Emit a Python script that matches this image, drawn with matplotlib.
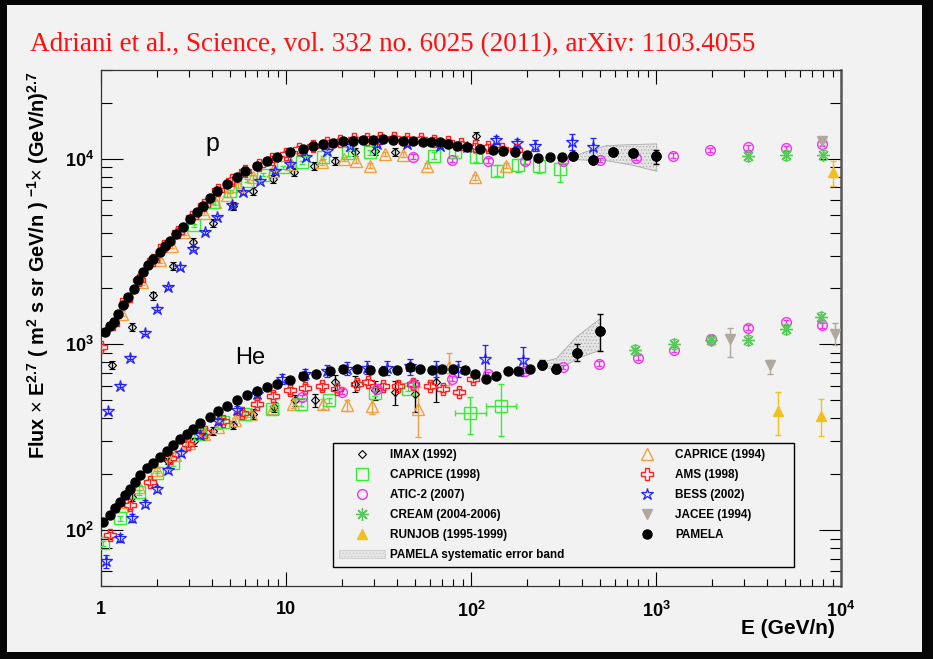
import matplotlib.pyplot as plt
from matplotlib.lines import Line2D
from matplotlib.patches import Patch, Rectangle
from matplotlib.ticker import NullFormatter, LogLocator

plt.rcParams['font.family'] = ['Liberation Sans', 'DejaVu Sans']
plt.rcParams['mathtext.fontset'] = 'custom'
plt.rcParams['mathtext.rm'] = 'Liberation Sans'
plt.rcParams['mathtext.bf'] = 'Liberation Sans:bold'
plt.rcParams['hatch.linewidth'] = 0.5
plt.rcParams['hatch.color'] = '#999999'

# ---- proton data ----
p_pam_E = [1.05, 1.12, 1.17, 1.24, 1.32, 1.40, 1.50, 1.59, 1.69, 1.80, 1.92, 2.08, 2.22,
           2.36, 2.55, 2.78, 3.03, 3.3, 3.57, 3.9, 4.22, 4.77, 5.41, 6.0, 6.94, 7.86, 8.9,
           10.5, 12.3, 14.0, 15.8, 18.0, 20.3, 23.0, 26.1, 29.5, 33.4, 38.0, 42.9, 48.5,
           55, 61, 67.7, 75, 83.9, 95, 112, 131, 149, 172, 200, 230, 266, 310, 355, 458,
           584, 750, 1000]
p_pam_F = [1164, 1250, 1318, 1462, 1622, 1795, 1995, 2208, 2446, 2660, 2886, 3132, 3380,
           3622, 3950, 4276, 4740, 5150, 5586, 6150, 6730, 7310, 7940, 8620, 9170, 9750,
           10160, 10810, 11270, 11650, 11990, 12200, 12380, 12500, 12600, 12650, 12700,
           12600, 12500, 12400, 12300, 12250, 12300, 12000, 11750, 11500, 11270, 11130,
           11040, 10810, 10510, 10040, 10250, 10250, 10380, 9880, 10900, 10730, 10290]
p_pam_err_E = [355, 458, 584, 750, 1000]
p_pam_err_F = [10380, 9880, 10900, 10730, 10290]
p_pam_err = [[150, 250, 300, 450, 920], [150, 250, 300, 450, 840]]
p_band_E = [355, 420, 540, 750, 1010]
p_band_lo = [9900, 9800, 9750, 9200, 8540]
p_band_hi = [10200, 10900, 11750, 11900, 12000]

p_imax_E = [1.15, 1.47, 1.90, 2.44, 3.13, 4.05, 5.19, 6.66, 8.55, 11.0, 14.1, 18.4, 23.6,
            30.3, 38.8, 107]
p_imax_F = [771, 1239, 1833, 2636, 3548, 4487, 5586, 6730, 7780, 8440, 9170, 9750, 10810,
            11040, 10810, 13300]

p_cap94_E = [1.29, 1.66, 2.08, 2.41, 2.81, 3.60, 4.13, 4.77, 5.52, 6.66, 8.5, 10.7, 15.6,
             20.5, 23.9, 28.5, 34.3, 42.9, 58, 105, 155]
p_cap94_F = [1462, 2163, 2831, 3403, 4018, 5100, 5820, 6400, 7160, 7940, 8620, 9360, 9550,
             9960, 9750, 9170, 10600, 10500, 9170, 7940, 9170]

p_cap98_E = [3.18, 4.05, 4.98, 6.13, 7.53, 9.66, 12.2, 15.9, 21.7, 28.5, 62.7, 82, 106,
             138, 180, 232, 302]
p_cap98_F = [4365, 5820, 6670, 7610, 8200, 8980, 9550, 10160, 10680, 10810, 10380, 10810,
             10160, 8620, 9250, 9170, 8800]
p_cap98_rel = [0.02, 0.02, 0.02, 0.02, 0.02, 0.02, 0.02, 0.02, 0.03, 0.03, 0.04, 0.05,
               0.06, 0.07, 0.08, 0.09, 0.15]

p_ams_E = [1.0, 1.16, 1.37, 1.6, 1.9, 2.2, 2.6, 3.1, 3.6, 4.3, 5.1, 6.0, 7.1, 8.4, 10,
           11.8, 14, 16.6, 19.6, 23.2, 27.4, 32.4, 38.3, 45.3, 53.6, 63.4, 75, 88.7, 105,
           124, 147, 174]
p_ams_F = [967, 1290, 1730, 2230, 2840, 3380, 4050, 4850, 5620, 6780, 7650, 8600, 9250,
           9950, 10600, 11200, 11700, 12150, 12450, 12700, 12800, 12900, 12900, 12800,
           12700, 12500, 12300, 12000, 11700, 11500, 11300, 11100]

p_atic_E = [48.8, 78.8, 123, 195, 315, 500, 780, 1230, 1950, 3150, 5050, 7900]
p_atic_F = [10250, 9840, 9750, 9700, 9670, 9840, 10090, 10380, 11130, 11500, 11360, 12000]

p_bess_E = [1.095, 1.26, 1.43, 1.73, 2.0, 2.31, 2.67, 3.15, 3.65, 4.25, 5.09, 5.88, 7.24,
            8.73, 10.5, 12.9, 16.6, 22.2, 30.9, 44.8, 67.7, 95, 137, 177, 222, 350, 454]
p_bess_F = [438, 600, 848, 1155, 1556, 2032, 2606, 3268, 4018, 4830, 5660, 6590, 7610,
            8540, 9360, 10160, 11040, 11750, 12000, 12000, 11750, 11500, 12600, 12100,
            11750, 12300, 11500]
p_bess_rel = [0.02] * 20 + [0.03, 0.04, 0.05, 0.06, 0.07, 0.10, 0.12]

p_cream_E = [3150, 5050, 7950]
p_cream_F = [10290, 10470, 10470]
p_jacee_E = [7900]
p_jacee_F = [12500]
p_runjob_E = [9000]
p_runjob_F = [8440]
p_runjob_err = [[1280], [1310]]

# ---- helium data ----
he_pam_E = [1.03, 1.12, 1.19, 1.27, 1.35, 1.43, 1.53, 1.62, 1.77, 1.92, 2.08, 2.27, 2.46,
            2.68, 2.90, 3.15, 3.43, 3.88, 4.3, 4.77, 5.41, 6.13, 6.94, 7.9, 8.9, 10.5,
            12.4, 14.6, 17.3, 20.4, 24.1, 28.5, 33.6, 39.7, 46.8, 52.8, 61.6, 69.9, 80.2,
            92.6, 105, 121, 137, 158, 180, 208, 243, 289, 372, 497]
he_pam_F = [110.8, 120, 131, 142, 154, 167, 182, 198, 215, 229, 248, 268, 287, 310, 331,
            352, 375, 407, 435, 464, 500, 532, 561, 590, 615, 646, 673, 695, 718, 734, 734,
            725, 718, 725, 755, 740, 730, 740, 740, 725, 695, 649, 673, 718, 716, 740, 778,
            740, 898, 1179]
he_pam_err_E = [243, 289, 372, 497]
he_pam_err_F = [778, 740, 898, 1179]
he_pam_err = [[40, 35, 80, 263], [45, 40, 100, 271]]
he_band_E = [240, 290, 372, 500]
he_band_lo = [770, 716, 836, 930]
he_band_hi = [800, 840, 1097, 1375]

he_imax_E = [1.47, 2.3, 3.2, 4.05, 5.19, 6.66, 8.6, 11.2, 14.3, 18.4, 23.6, 30.3, 38.8, 50, 65]
he_imax_F = [150, 235, 300, 340, 367, 421, 460, 500, 500, 626, 615, 570, 555, 538, 626]
he_imax_rel = [0.04, 0.04, 0.05, 0.05, 0.05, 0.06, 0.06, 0.07, 0.08, 0.09, 0.10, 0.12,
               0.15, 0.2, 0.22]

he_cap94_E = [1.3, 1.6, 2.0, 2.5, 3.0, 3.6, 4.3, 5.3, 6.5, 8.5, 10.9, 15.9, 21.3, 29, 52, 76]
he_cap94_F = [135, 170, 210, 255, 295, 330, 360, 390, 420, 455, 480, 480, 470, 464, 451, 753]
he_cap94_rel = [0.03] * 10 + [0.05, 0.06, 0.07, 0.09, 0.3, 0.2]

he_cap98_E = [1.03, 1.27, 1.6, 2.0, 2.46, 3.43, 4.57, 6.0, 8.35, 12, 17, 30.3, 45.9]
he_cap98_F = [85, 116, 160, 202, 229, 331, 382, 420, 451, 480, 500, 544, 578]
he_cap98_hi_E = [98.6, 145]
he_cap98_hi_F = [427, 464]
he_cap98_hi_yerr = [[97, 142], [96, 151]]
he_cap98_hi_xerr = [[16.6, 25], [21.4, 30]]

he_ams_E = [1.12, 1.43, 1.84, 2.36, 2.96, 3.65, 4.57, 5.76, 6.94, 8.5, 10.5, 12.7, 15.6,
            18.8, 24.1, 27.9, 33.6, 40.4, 48.8, 60, 70.6, 86, 103]
he_ams_F = [94, 136, 182, 243, 290, 339, 387, 427, 480, 530, 566, 585, 594, 578, 615, 626,
            594, 600, 615, 600, 578, 555, 653]

he_atic_E = [12.2, 20.0, 30.9, 48.8, 78.7, 123, 195, 313, 494, 795, 1250, 1980, 3150, 5050, 7900]
he_atic_F = [521, 555, 578, 615, 653, 690, 720, 755, 787, 848, 936, 1073, 1230, 1318, 1265]

he_bess_E = [1.07, 1.27, 1.47, 1.73, 2.0, 2.31, 2.7, 3.43, 4.3, 5.41, 7.0, 9.5, 12.7, 16.6,
             21.3, 27.3, 35, 46.8, 65, 85, 119, 191]
he_bess_F = [68, 91, 116, 139, 167, 211, 260, 324, 385, 441, 540, 650, 690, 720, 740, 750,
             750, 760, 740, 740, 836, 820]
he_bess_rel = [0.08, 0.05, 0.05, 0.04, 0.04, 0.04, 0.04, 0.04, 0.04, 0.05, 0.05, 0.06,
               0.07, 0.07, 0.08, 0.08, 0.09, 0.1, 0.1, 0.1, 0.18, 0.18]

he_cream_E = [770, 1250, 1980, 3150, 5050, 7800]
he_cream_F = [936, 1010, 1058, 1058, 1213, 1403]
he_jacee_E = [2500, 4150, 9300]
he_jacee_F = [1073, 771, 1140]
he_jacee_err = [[218, 80, 150], [147, 50, 160]]
he_runjob_E = [4580, 7750]
he_runjob_F = [436, 410]
he_runjob_err = [[113, 88], [119, 99]]

legend_labels = ['IMAX (1992)', 'CAPRICE (1998)', 'ATIC-2 (2007)', 'CREAM (2004-2006)',
                 'RUNJOB (1995-1999)', 'PAMELA systematic error band',
                 'CAPRICE (1994)' + '\u00a0' * 7, 'AMS (1998)', 'BESS (2002)', 'JACEE (1994)',
                 'PAMELA']

BG = '#f2f2f2'
C_CAP94 = '#f0a040'
C_CAP98 = '#33ee33'
C_ATIC = '#ee33ee'
C_CREAM = '#55cc55'
C_AMS = '#ff2020'
C_BESS = '#2222ff'
C_JACEE = '#b0a89c'
C_RUNJOB = '#f0c020'


def rel_err(values, rel):
    if not isinstance(rel, list):
        rel = [rel] * len(values)
    return [v * r for v, r in zip(values, rel)]


def draw(ax, E, F, err, marker, color, ms, filled=False, z=3, mew=1.0, cap=2.5, xerr=None):
    ax.errorbar(E, F, yerr=err, xerr=xerr, fmt='', marker=marker, linestyle='none',
                color=color, mfc=color if filled else 'none', mec=color, ms=ms, mew=mew,
                elinewidth=1, capsize=cap, zorder=z)


fig = plt.figure(figsize=(9.33, 6.59), dpi=100, facecolor='#060606')
fig.patches.append(Rectangle((0.0075, 0.0106), 0.981, 0.982, transform=fig.transFigure,
                             facecolor=BG, edgecolor='none', zorder=-5))
ax = fig.add_axes([0.1083, 0.1108, 0.7931, 0.783])
ax.set_facecolor(BG)
ax.set_xscale('log')
ax.set_yscale('log')
ax.set_xlim(1, 1e4)
ax.set_ylim(50, 3e4)

# systematic bands
for bE, blo, bhi in [(p_band_E, p_band_lo, p_band_hi), (he_band_E, he_band_lo, he_band_hi)]:
    ax.fill_between(bE, blo, bhi, facecolor='#e4e4e4', edgecolor='#aaaaaa',
                    hatch='.....', linewidth=0.6, zorder=2)

# other experiments, both species
star = '*'
aster = (8, 2, 0)
for E, F, rel in [(p_imax_E, p_imax_F, 0.05), (he_imax_E, he_imax_F, he_imax_rel)]:
    draw(ax, E, F, rel_err(F, rel), 'D', 'black', 4.5, mew=0.8)
for E, F, rel in [(p_cap94_E, p_cap94_F, 0.03), (he_cap94_E, he_cap94_F, he_cap94_rel)]:
    draw(ax, E, F, rel_err(F, rel), '^', C_CAP94, 8)
draw(ax, p_cap98_E, p_cap98_F, rel_err(p_cap98_F, p_cap98_rel), 's', C_CAP98, 8)
draw(ax, he_cap98_E, he_cap98_F, rel_err(he_cap98_F, 0.03), 's', C_CAP98, 8)
draw(ax, he_cap98_hi_E, he_cap98_hi_F, he_cap98_hi_yerr, 's', C_CAP98, 8,
     xerr=he_cap98_hi_xerr)
for E, F in [(p_ams_E, p_ams_F), (he_ams_E, he_ams_F)]:
    draw(ax, E, F, rel_err(F, 0.04), 'P', C_AMS, 8)
for E, F in [(p_atic_E, p_atic_F), (he_atic_E, he_atic_F)]:
    draw(ax, E, F, rel_err(F, 0.03), 'o', C_ATIC, 7)
for E, F, rel in [(p_bess_E, p_bess_F, p_bess_rel), (he_bess_E, he_bess_F, he_bess_rel)]:
    draw(ax, E, F, rel_err(F, rel), star, C_BESS, 9, mew=0.9)
for E, F in [(p_cream_E, p_cream_F), (he_cream_E, he_cream_F)]:
    draw(ax, E, F, rel_err(F, 0.06), aster, C_CREAM, 9)
draw(ax, p_jacee_E, p_jacee_F, rel_err(p_jacee_F, 0.05), 'v', C_JACEE, 7, filled=True)
draw(ax, he_jacee_E, he_jacee_F, he_jacee_err, 'v', C_JACEE, 7, filled=True)
draw(ax, p_runjob_E, p_runjob_F, p_runjob_err, '^', C_RUNJOB, 7, filled=True)
draw(ax, he_runjob_E, he_runjob_F, he_runjob_err, '^', C_RUNJOB, 7, filled=True)

# PAMELA
for E, F in [(p_pam_E, p_pam_F), (he_pam_E, he_pam_F)]:
    ax.plot(E, F, 'o', color='black', ms=6.5, ls='none', zorder=5)
draw(ax, p_pam_err_E, p_pam_err_F, p_pam_err, 'o', 'black', 6.5, filled=True, z=5)
draw(ax, he_pam_err_E, he_pam_err_F, he_pam_err, 'o', 'black', 6.5, filled=True, z=5)

ax.text(3.98, 12000, 'p', fontsize=18, ha='center', va='center')
ax.text(6.4, 842, 'He', fontsize=17, ha='center', va='center')

# axes styling
ax.tick_params(which='both', direction='in', top=True, right=True, width=0.8)
ax.tick_params(axis='x', which='major', length=10, pad=11)
ax.tick_params(axis='x', which='minor', length=5)
ax.tick_params(axis='y', which='major', length=16, pad=5)
ax.tick_params(axis='y', which='minor', length=8)
ax.xaxis.set_minor_locator(LogLocator(base=10, subs=range(2, 10), numticks=20))
ax.yaxis.set_minor_locator(LogLocator(base=10, subs=range(2, 10), numticks=20))
ax.xaxis.set_minor_formatter(NullFormatter())
ax.yaxis.set_minor_formatter(NullFormatter())
ax.set_xticks([1, 10, 100, 1000, 10000])
ax.set_xticklabels(['1', '10', r'$\mathbf{10^{2}}$', r'$\mathbf{10^{3}}$', r'$\mathbf{10^{4}}$'],
                   fontsize=13, fontweight='bold')
ax.set_yticks([100, 1000, 10000])
ax.set_yticklabels([r'$\mathbf{10^{2}}$', r'$\mathbf{10^{3}}$', r'$\mathbf{10^{4}}$'],
                   fontsize=13, fontweight='bold')
for side in ['left', 'bottom', 'top']:
    ax.spines[side].set_color('#333333')
    ax.spines[side].set_linewidth(0.9)
ax.spines['right'].set_color('#555555')
ax.spines['right'].set_linewidth(1.8)

# legend
handles = [
    Line2D([], [], marker='D', color='black', mfc='none', ls='none', ms=4.5, mew=0.8),
    Line2D([], [], marker='s', color=C_CAP98, mfc='none', ls='none', ms=8),
    Line2D([], [], marker='o', color=C_ATIC, mfc='none', ls='none', ms=7),
    Line2D([], [], marker=aster, color=C_CREAM, ls='none', ms=9),
    Line2D([], [], marker='^', color=C_RUNJOB, ls='none', ms=7),
    Patch(facecolor='#e4e4e4', edgecolor='#cccccc', hatch='.....', linewidth=0.6),
    Line2D([], [], marker='^', color=C_CAP94, mfc='none', ls='none', ms=8),
    Line2D([], [], marker='P', color=C_AMS, mfc='none', ls='none', ms=8),
    Line2D([], [], marker=star, color=C_BESS, mfc='none', ls='none', ms=9, mew=0.9),
    Line2D([], [], marker='v', color=C_JACEE, ls='none', ms=7),
    Line2D([], [], marker='o', color='black', ls='none', ms=6.5),
]
leg = ax.legend(handles, legend_labels, ncol=2, loc='lower left',
                bbox_to_anchor=(0.3135, 0.0368, 0.623, 0.236), mode='expand',
                borderaxespad=0, frameon=True, fancybox=False, edgecolor='black',
                facecolor=BG, framealpha=1, prop=dict(weight='bold', size=8.5),
                handlelength=3.9, handletextpad=0.4, labelspacing=0.68, borderpad=0.5)
leg.get_frame().set_linewidth(1.0)
leg.set_zorder(10)

# texts
fig.text(30 / 933, 1 - 45 / 659, 'Adriani et al., Science, vol. 332 no. 6025 (2011), arXiv: 1103.4055',
         color='#ff1010', family='Liberation Serif', fontsize=19.5, va='center', ha='left')
fig.text(0.041, 0.598,
         r'Flux $\times$ E$^{\mathbf{2.7}}$ ( m$^{\mathbf{2}}$ s sr GeV/n ) $^{\mathbf{-1}}$$\times$ (GeV/n)$^{\mathbf{2.7}}$',
         rotation=90, ha='center', va='center', fontsize=14.3, fontweight='bold')
fig.text(835 / 933, 1 - 628 / 659, 'E (GeV/n)', ha='right', va='center', fontsize=15,
         fontweight='bold')

fig.savefig('out.png', dpi=100, facecolor=fig.get_facecolor())
